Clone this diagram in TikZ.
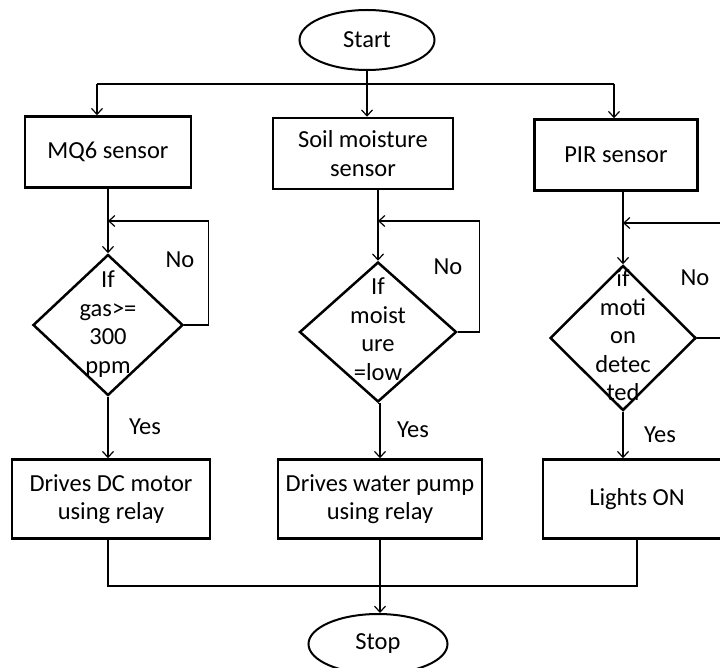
\documentclass[tikz,border=0pt]{standalone}
\usepackage{fontspec}
\setmainfont{Carlito}
\usetikzlibrary{shapes.geometric,arrows.meta}

\newcommand{\condtext}[1]{\smash{\raisebox{-0.25em}{\begin{tabular}{@{}c@{}}#1\end{tabular}}}}

\begin{document}
\begin{tikzpicture}[x=1pt,y=-1pt]
    \tikzstyle{every node}+=[inner sep=0pt, font=\fontsize{24.5}{28.5}\selectfont]
    \tikzstyle{term}=[draw, ellipse, line width=2pt]
    \tikzstyle{proc}=[draw, rectangle, line width=2.5pt, align=center, minimum height=71pt]
    \tikzstyle{cond}=[draw, diamond, line width=2.5pt]
    \tikzstyle{flow}=[line width=1.2pt, -{Straight Barb[length=6pt,width=11pt]}]
    \tikzstyle{line}=[line width=1.2pt]
    \clip (0,0) rectangle (720,668);
    \fill [white] (0,0) rectangle (720,668);
    % terminals
    \node [term, minimum width=135pt, minimum height=60pt] (start) at (367,40) {Start};
    \node [term, minimum width=139pt, minimum height=60pt] (stop) at (378,644) {Stop};
    % sensors
    \node [proc, minimum width=166pt] (mq6) at (108,152) {MQ6 sensor};
    \node [proc, minimum width=180pt] (soil) at (363,153.5) {Soil moisture\\sensor};
    \node [proc, minimum width=163pt] (pir) at (616,155) {PIR sensor};
    % checks
    \node [cond, minimum width=150pt, minimum height=141pt] (gas) at (108,325) {\condtext{If\\gas>=\\300\\ppm}};
    \node [cond, minimum width=157pt, minimum height=140pt] (moist) at (378,332) {\condtext{If\\moist\\ure\\=low}};
    \node [cond, minimum width=146pt, minimum height=145pt] (motion) at (623,338) {\condtext{if\\moti\\on\\detec\\ted}};
    % actions
    \node [proc, minimum width=198pt, minimum height=79pt] (dcm) at (111,499) {Drives DC motor\\using relay};
    \node [proc, minimum width=204pt, minimum height=79pt] (pump) at (380,499) {Drives water pump\\using relay};
    \node [proc, minimum width=188pt, minimum height=79pt] (lights) at (637,499) {Lights ON};
    % labels
    \node (no1) at (180,260) {No};
    \node (no2) at (448,267) {No};
    \node (no3) at (695,278) {No};
    \node (yes1) at (145,427) {Yes};
    \node (yes2) at (413,430) {Yes};
    \node (yes3) at (660,435) {Yes};
    % junctions
    \coordinate (l1) at (97,84);
    \coordinate (r1) at (614,84);
    \coordinate (j1) at (108,221);
    \coordinate (j2) at (378,221);
    \coordinate (j3) at (623,223);
    \coordinate (jl) at (108,586);
    \coordinate (jr) at (637,586);
    % start to sensors
    \draw [flow] (start) -- (start |- soil.north);
    \draw [line] (l1) -- (r1);
    \draw [flow] (l1) -- (l1 |- mq6.north);
    \draw [flow] (r1) -- (r1 |- pir.north);
    % sensors to checks
    \draw [flow] (mq6) -- (gas);
    \draw [flow] (moist |- soil.south) -- (moist.north);
    \draw [flow] (motion |- pir.south) -- (motion.north);
    % no loops
    \draw [flow] (gas.east) -- ++(24,0) |- (j1);
    \draw [flow] (moist.east) -- ++(22,0) |- (j2);
    \draw [flow] (motion.east) -- ++(40,0) |- (j3);
    % yes branches
    \draw [flow] (gas.south) -- (gas.south |- dcm.north);
    \draw [flow] (moist.south) -- (moist.south -| pump.north) -- (pump.north);
    \draw [flow] (motion.south) -- (motion.south |- lights.north);
    % to stop
    \draw [line] (jl |- dcm.south) -- (jl) -- (jr) -- (jr |- lights.south);
    \draw [flow] (pump.south) -- (pump.south |- stop.north);
\end{tikzpicture}
\end{document}
